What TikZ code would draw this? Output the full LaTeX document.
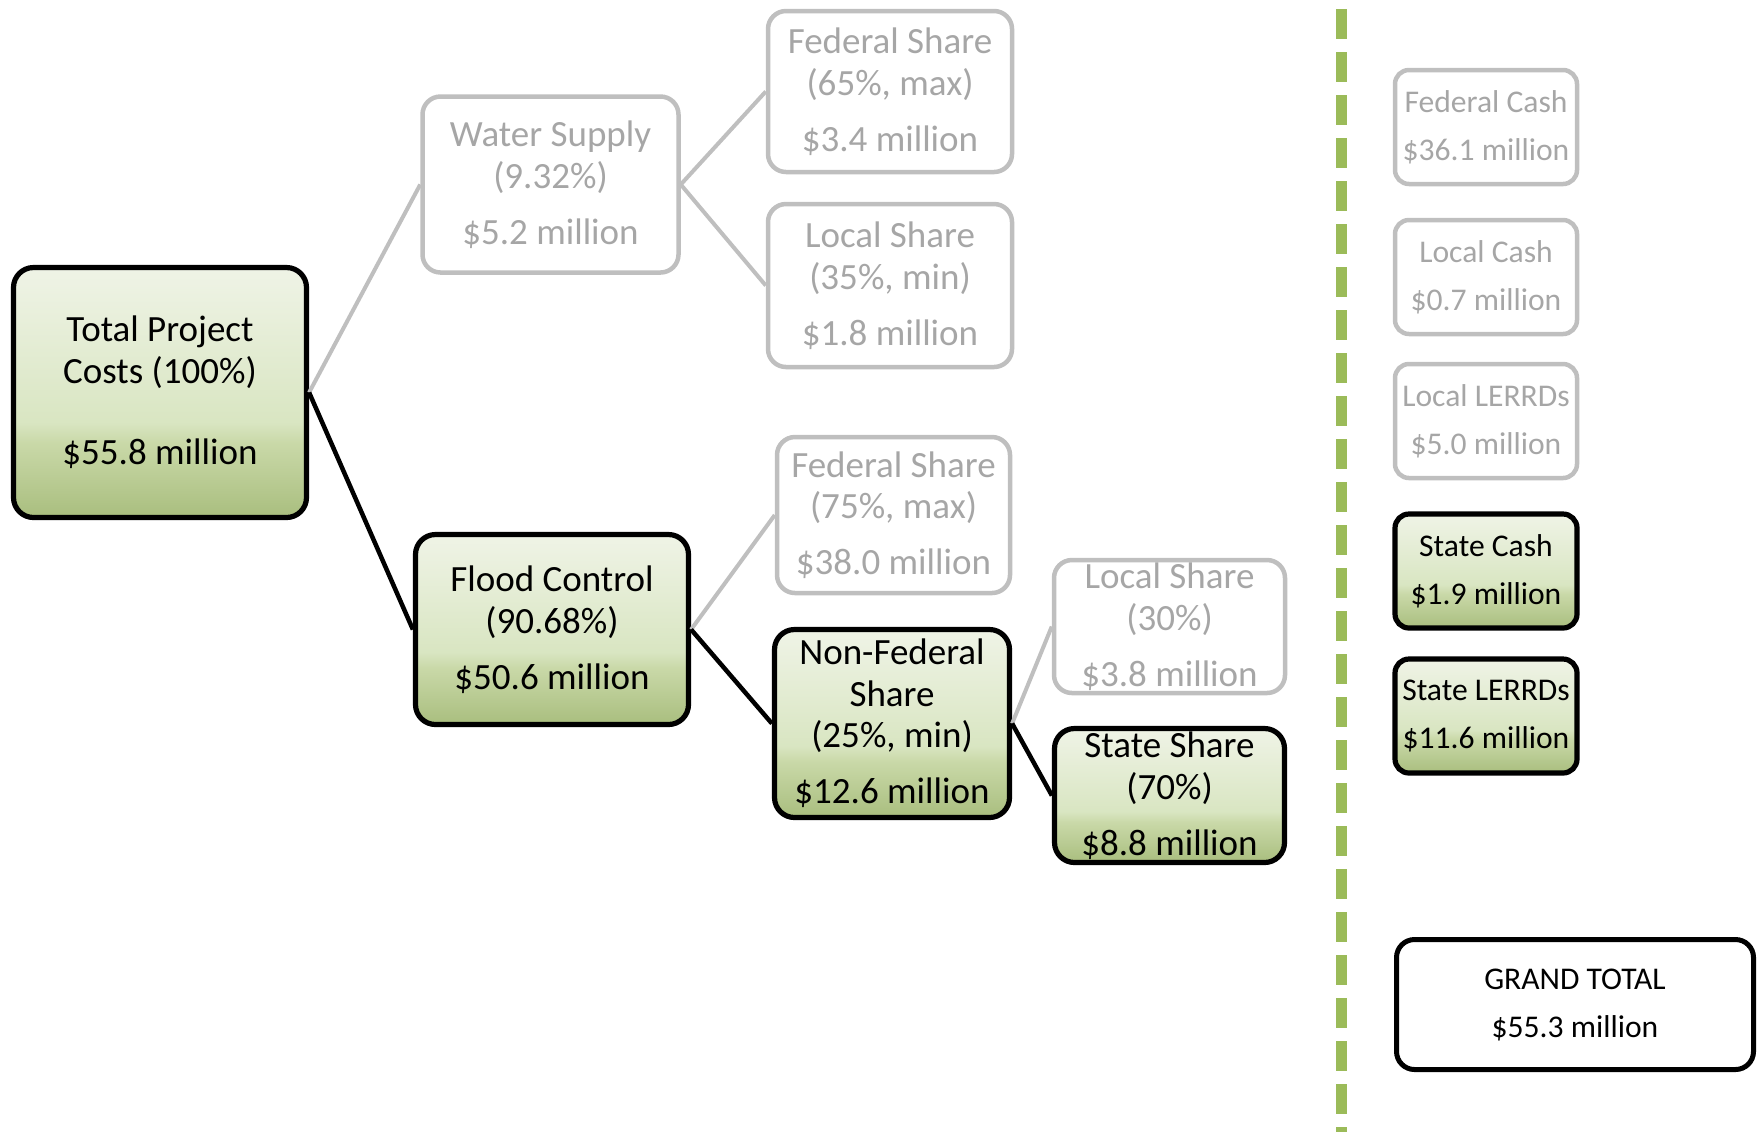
\documentclass[tikz,border=0pt]{standalone}
\usepackage{fontspec}
\setmainfont{Carlito}
\pgfdeclareverticalshading{greenbox}{100bp}{rgb(0bp)=(0.46,0.57,0.24); rgb(20bp)=(0.62,0.71,0.44); rgb(40bp)=(0.79,0.85,0.66); rgb(44bp)=(0.85,0.90,0.76); rgb(72bp)=(0.93,0.95,0.89); rgb(100bp)=(0.985,0.99,0.975)}
\definecolor{gline}{HTML}{BFBFBF}
\definecolor{gtext}{HTML}{A6A6A6}
\definecolor{dgreen}{HTML}{9BBB59}
\tikzset{
  bigfont/.style={font=\fontsize{18.5}{20.8}\selectfont},
  smallfont/.style={font=\fontsize{15.8}{18}\selectfont},
  gbox/.style={draw=gline, line width=2.25pt, rounded corners=9pt, text=gtext, align=center, inner sep=0pt, bigfont},
  kbox/.style={draw=black, line width=2.6pt, rounded corners=10pt, shading=greenbox, text=black, align=center, inner sep=0pt, bigfont},
  sgbox/.style={gbox, rounded corners=7pt, smallfont, minimum width=91pt, minimum height=57pt},
  skbox/.style={kbox, rounded corners=7pt, smallfont, minimum width=91pt, minimum height=57pt},
  wbox/.style={draw=black, line width=2.5pt, rounded corners=9pt, fill=white, align=center, inner sep=0pt, smallfont},
  gconn/.style={draw=gline, line width=2pt},
  kconn/.style={draw=black, line width=2.25pt},
}
\begin{document}
\begin{tikzpicture}[x=0.5pt,y=-0.5pt]
\useasboundingbox (0,0) rectangle (1764,1132);
% divider
\draw[dgreen, line width=5.5pt, dash pattern=on 15pt off 6.5pt] (1341,9) -- (1341,1132);
% tree nodes
\node[kbox, minimum width=146.5pt, minimum height=125pt] (total) at (160,392.5) {Total Project\\Costs (100\%)\\[20pt]\$55.8 million};
\node[gbox, minimum width=128pt, minimum height=88pt] (water) at (550.5,184.5) {Water Supply\\(9.32\%)\\[7.2pt]\$5.2 million};
\node[gbox, minimum width=122pt, minimum height=80.5pt] (fed65) at (890,91.5) {Federal Share\\(65\%, max)\\[7.2pt]\$3.4 million};
\node[gbox, minimum width=122pt, minimum height=81.5pt] (loc35) at (890,285.5) {Local Share\\(35\%, min)\\[7.2pt]\$1.8 million};
\node[kbox, minimum width=136.5pt, minimum height=95pt] (flood) at (552,629.5) {Flood Control\\(90.68\%)\\[7.2pt]\$50.6 million};
\node[gbox, minimum width=116.5pt, minimum height=78pt] (fed75) at (893.5,515) {Federal Share\\(75\%, max)\\[7.2pt]\$38.0 million};
\node[kbox, minimum width=117.5pt, minimum height=94pt] (nonfed) at (892,723.5) {Non-Federal\\Share\\(25\%, min)\\[7.2pt]\$12.6 million};
\node[gbox, minimum width=115.5pt, minimum height=66.5pt] (loc30) at (1169.5,626.5) {Local Share\\(30\%)\\[7.2pt]\$3.8 million};
\node[kbox, minimum width=115pt, minimum height=67pt] (state) at (1169.5,795.5) {State Share\\(70\%)\\[7.2pt]\$8.8 million};
% connectors
\draw[gconn] (total.east) -- (water.west);
\draw[kconn] (total.east) -- (flood.west);
\draw[gconn] (water.east) -- (fed65.west);
\draw[gconn] (water.east) -- (loc35.west);
\draw[gconn] (flood.east) -- (fed75.west);
\draw[kconn] (flood.east) -- (nonfed.west);
\draw[gconn] (nonfed.east) -- (loc30.west);
\draw[kconn] (nonfed.east) -- (state.west);
% right column
\node[sgbox] (fedcash) at (1486,127) {Federal Cash\\[6pt]\$36.1 million};
\node[sgbox] (loccash) at (1486,277) {Local Cash\\[6pt]\$0.7 million};
\node[sgbox] (loclerrd) at (1486,421) {Local LERRDs\\[6pt]\$5.0 million};
\node[skbox] (statecash) at (1486,571) {State Cash\\[6pt]\$1.9 million};
\node[skbox] (statelerrd) at (1486,716) {State LERRDs\\[6pt]\$11.6 million};
\node[wbox, minimum width=178.5pt, minimum height=65pt] (grand) at (1575,1004.5) {GRAND TOTAL\\[6pt]\$55.3 million};
\end{tikzpicture}
\end{document}
